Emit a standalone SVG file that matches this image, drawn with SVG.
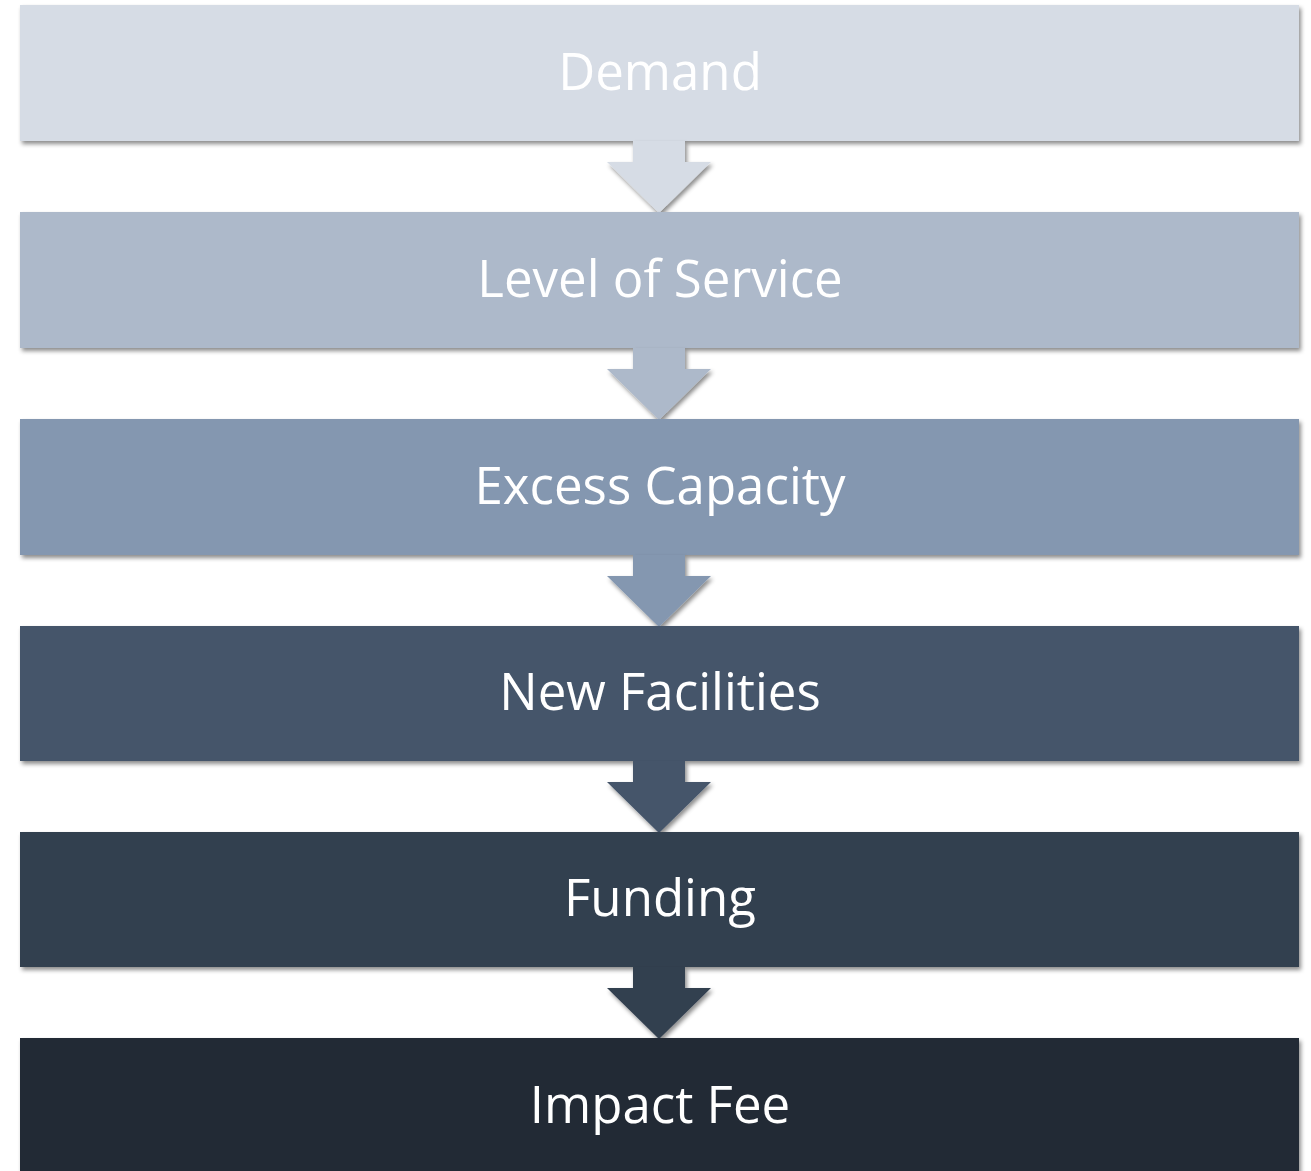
<svg xmlns="http://www.w3.org/2000/svg" width="1311" height="1171" viewBox="0 0 1311 1171">
<defs>
<filter id="sh" x="-5%" y="-20%" width="110%" height="140%">
<feDropShadow dx="2" dy="3" stdDeviation="2" flood-color="#000" flood-opacity="0.45"/>
</filter>
<path id="arr" d="M633,0 H685 V21 H711 L659,72 L607,21 H633 Z"/>
</defs>
<style>
.box{filter:url(#sh);}
.lbl{font-family:"Open Sans","Liberation Sans",sans-serif;font-size:51px;fill:#fff;text-anchor:middle;}
</style>
<rect width="1311" height="1171" fill="#fff"/>
<g id="n1"><rect class="box" x="20" y="5" width="1279" height="136" fill="#D6DCE5"/><text class="lbl" x="660" y="90">Demand</text></g>
<g id="connectors-1"><use href="#arr" y="141" fill="#D6DCE5" class="box"/></g>
<g id="n2"><rect class="box" x="20" y="212" width="1279" height="136" fill="#ADB9CA"/><text class="lbl" x="660" y="297">Level of Service</text></g>
<g id="connectors-2"><use href="#arr" y="348" fill="#ADB9CA" class="box"/></g>
<g id="n3"><rect class="box" x="20" y="419" width="1279" height="136" fill="#8497B0"/><text class="lbl" x="660" y="504">Excess Capacity</text></g>
<g id="connectors-3"><use href="#arr" y="555" fill="#8497B0" class="box"/></g>
<g id="n4"><rect class="box" x="20" y="626" width="1279" height="135" fill="#44546A"/><text class="lbl" x="660" y="710">New Facilities</text></g>
<g id="connectors-4"><use href="#arr" y="761" fill="#44546A" class="box"/></g>
<g id="n5"><rect class="box" x="20" y="832" width="1279" height="135" fill="#333F50"/><text class="lbl" x="660" y="916">Funding</text></g>
<g id="connectors-5"><use href="#arr" y="967" fill="#333F50" class="box"/></g>
<g id="n6"><rect class="box" x="20" y="1038" width="1279" height="140" fill="#222A35"/><text class="lbl" x="660" y="1123">Impact Fee</text></g>
</svg>
